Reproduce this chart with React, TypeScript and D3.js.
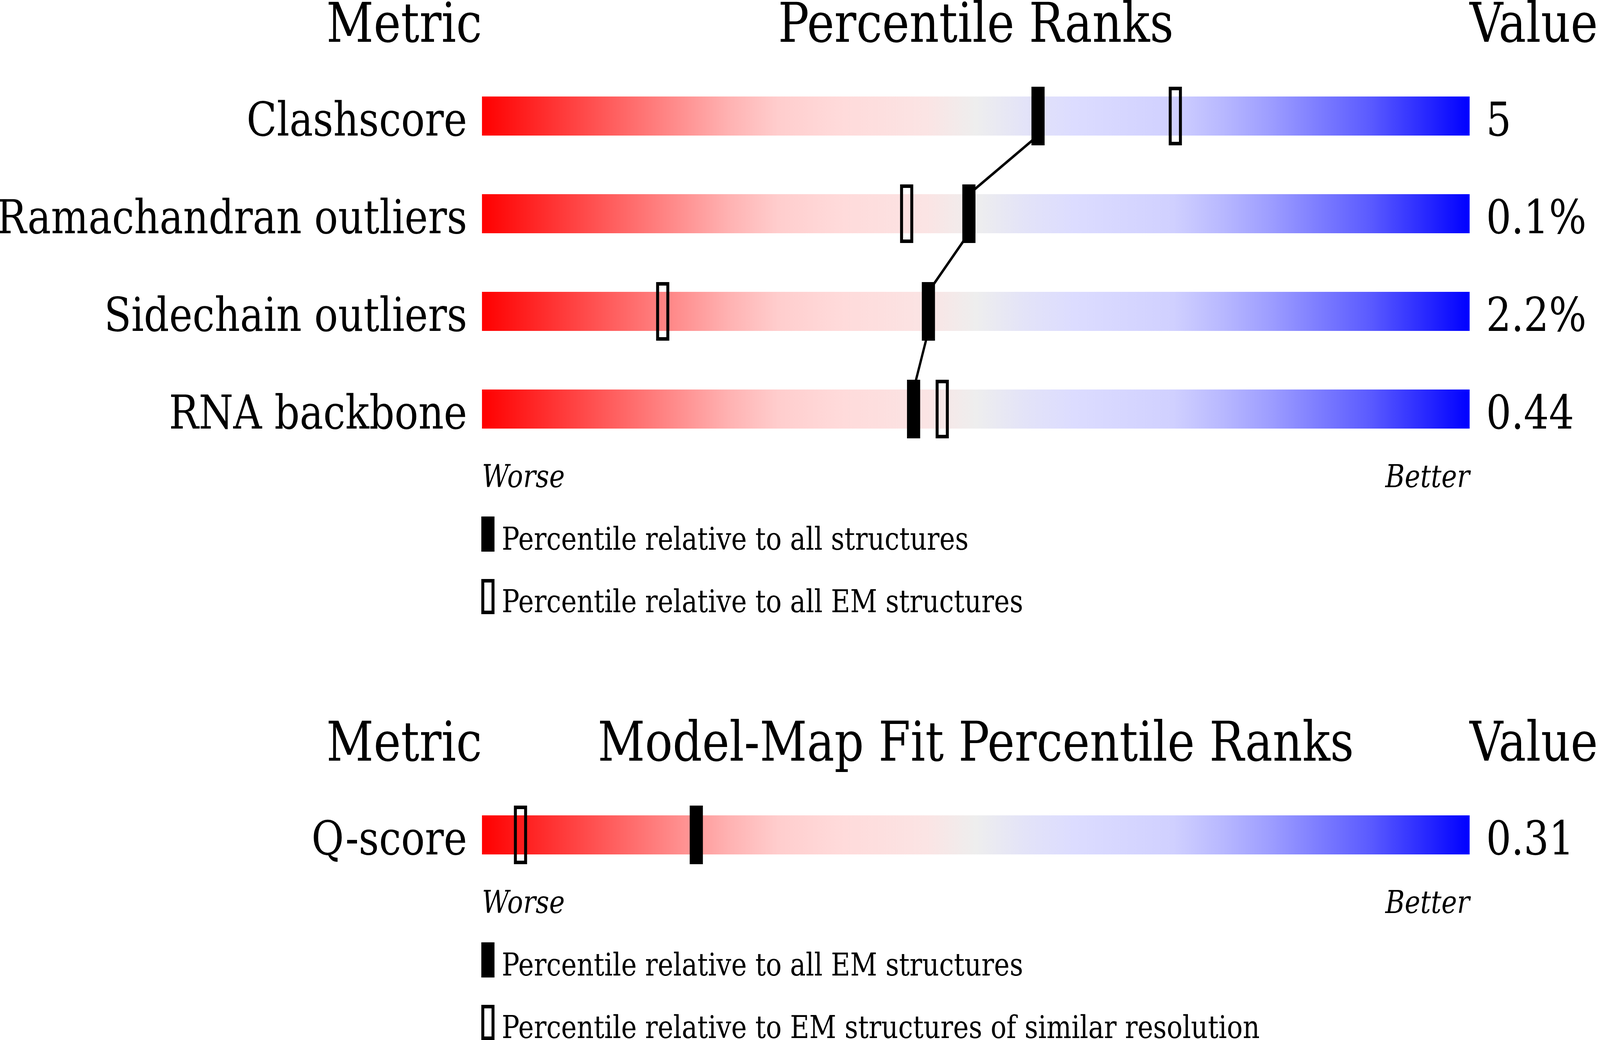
import React from "react";
import * as d3 from "d3";

// ---- data ----
const metrics = ["Clashscore", "Ramachandran outliers", "Sidechain outliers", "RNA backbone"];
const metricValues = ["5", "0.1%", "2.2%", "0.44"];
const pctAll = [56.3, 49.3, 45.2, 43.7];
const pctEM = [70.2, 43.0, 18.3, 46.6];

const fitMetrics = ["Q-score"];
const fitValues = ["0.31"];
const fitPctAllEM = [21.7];
const fitPctSimilar = [3.9];

const legendTop = ["Percentile relative to all structures", "Percentile relative to all EM structures"];
const legendBottom = ["Percentile relative to all EM structures", "Percentile relative to EM structures of similar resolution"];

const gradientStops: [number, string][] = [
  [0, "#ff0000"],
  [0.25, "#ffb2b2"],
  [0.3, "#ffcdcd"],
  [0.36, "#ffdada"],
  [0.45, "#fbe4e4"],
  [0.5, "#eeeeee"],
  [0.55, "#e3e3f8"],
  [0.6, "#dcdcff"],
  [0.7, "#d0d0ff"],
  [0.75, "#b8b8ff"],
  [0.8, "#9c9cff"],
  [0.9, "#5a5aff"],
  [1, "#0000ff"],
];

const W = 4860;
const H = 2662;
const FONT = "DejaVu Serif";

const x = d3.scaleLinear().domain([0, 100]).range([1464, 4464]);
const BAR_H = 100;
const MARK_W = 40;
const MARK_EXT = 25;

function Marker({ cx, y, h, open }: { cx: number; y: number; h: number; open: boolean }) {
  if (open) {
    const sw = 9;
    return (
      <rect
        x={cx - MARK_W / 2 + sw / 2}
        y={y + sw / 2}
        width={MARK_W - sw}
        height={h - sw}
        fill="none"
        stroke="#000"
        strokeWidth={sw}
      />
    );
  }
  return <rect x={cx - MARK_W / 2} y={y} width={MARK_W} height={h} fill="#000" />;
}

function Section({
  top,
  title,
  names,
  values,
  solid,
  open,
  legend,
}: {
  top: number;
  title: string;
  names: string[];
  values: string[];
  solid: number[];
  open: number[];
  legend: string[];
}) {
  const headerY = top - 140;
  const rowY = (i: number) => top + i * 250;
  const lastBottom = rowY(names.length - 1) + BAR_H;
  const worseY = lastBottom + 150;
  const line = d3
    .line<[number, number]>()
    .x((d) => d[0])
    .y((d) => d[1]);
  const segs: [number, number][][] = [];
  for (let i = 0; i < names.length - 1; i++) {
    segs.push([
      [x(solid[i]), rowY(i) + BAR_H],
      [x(solid[i + 1]), rowY(i + 1)],
    ]);
  }
  return (
    <g fontFamily={FONT} fill="#000">
      <text x={x(0)} y={headerY} fontSize={140} textAnchor="end">
        Metric
      </text>
      <text x={(x(0) + x(100)) / 2} y={headerY} fontSize={140} textAnchor="middle">
        {title}
      </text>
      <text x={x(100)} y={headerY} fontSize={140} textAnchor="start">
        Value
      </text>
      {names.map((n, i) => (
        <g key={n}>
          <rect x={x(0)} y={rowY(i)} width={x(100) - x(0)} height={BAR_H} fill="url(#slider)" />
          <text x={x(0) - 45} y={rowY(i) + BAR_H} fontSize={120} textAnchor="end">
            {n}
          </text>
          <text x={x(100) + 50} y={rowY(i) + BAR_H} fontSize={120} textAnchor="start">
            {values[i]}
          </text>
        </g>
      ))}
      {segs.map((s, i) => (
        <path key={i} d={line(s) || ""} stroke="#000" strokeWidth={7} fill="none" />
      ))}
      {names.map((n, i) => (
        <g key={n + "m"}>
          <Marker cx={x(open[i])} y={rowY(i) - MARK_EXT} h={BAR_H + 2 * MARK_EXT} open={true} />
          <Marker cx={x(solid[i])} y={rowY(i) - MARK_EXT} h={BAR_H + 2 * MARK_EXT} open={false} />
        </g>
      ))}
      <text x={x(0)} y={worseY} fontSize={80} fontStyle="italic" textAnchor="start">
        Worse
      </text>
      <text x={x(100)} y={worseY} fontSize={80} fontStyle="italic" textAnchor="end">
        Better
      </text>
      {legend.map((t, i) => {
        const by = worseY + 160 * (i + 1);
        return (
          <g key={t}>
            <Marker cx={x(0) + 18} y={by - 85} h={90} open={i === 1} />
            <text x={x(0) + 60} y={by} fontSize={80} textAnchor="start">
              {t}
            </text>
          </g>
        );
      })}
    </g>
  );
}

export default function App() {
  return (
    <svg
      viewBox={`0 0 ${W} ${H}`}
      preserveAspectRatio="none"
      style={{
        position: "fixed",
        left: 0,
        top: 0,
        width: "100vw",
        height: "100vh",
        display: "block",
        background: "#fff",
      }}
    >
      <defs>
        <linearGradient id="slider" x1="0" x2="1" y1="0" y2="0">
          {gradientStops.map(([o, c]) => (
            <stop key={o} offset={o} stopColor={c} />
          ))}
        </linearGradient>
      </defs>
      <rect width={W} height={H} fill="#fff" />
      <Section
        top={247}
        title="Percentile Ranks"
        names={metrics}
        values={metricValues}
        solid={pctAll}
        open={pctEM}
        legend={legendTop}
      />
      <Section
        top={2087}
        title="Model-Map Fit Percentile Ranks"
        names={fitMetrics}
        values={fitValues}
        solid={fitPctAllEM}
        open={fitPctSimilar}
        legend={legendBottom}
      />
    </svg>
  );
}
